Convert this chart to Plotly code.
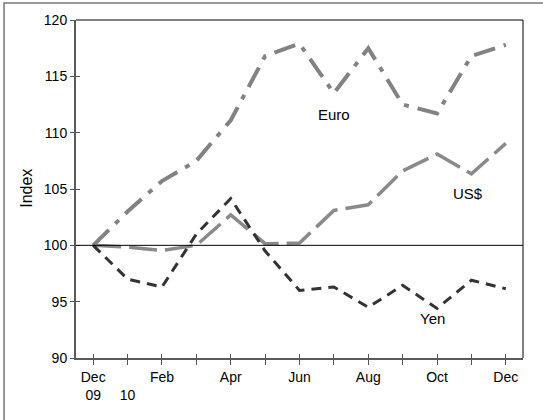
import plotly.graph_objects as go

# months, Dec 2009 to Dec 2010
months = ["Dec-09", "Jan-10", "Feb-10", "Mar-10", "Apr-10", "May-10", "Jun-10",
          "Jul-10", "Aug-10", "Sep-10", "Oct-10", "Nov-10", "Dec-10"]
tick_text = ["Dec<br>09", " <br>10", "Feb", "", "Apr", "", "Jun", "", "Aug", "", "Oct", "", "Dec"]

euro = [100.0, 103.0, 105.7, 107.5, 111.1, 116.8, 117.9, 113.5, 117.5, 112.5, 111.7, 116.8, 117.8]
usd = [100.0, 99.85, 99.55, 100.0, 102.7, 100.15, 100.2, 103.1, 103.6, 106.6, 108.1, 106.35, 109.05]
yen = [100.0, 97.0, 96.3, 101.0, 104.15, 99.5, 96.0, 96.3, 94.5, 96.45, 94.4, 96.9, 96.15]

FONT = "Liberation Sans"

fig = go.Figure()

fig.add_trace(go.Scatter(x=months, y=euro, mode="lines", name="Euro",
                         line=dict(color="#828282", width=4, dash="22px,9px,5px,9px")))
fig.add_trace(go.Scatter(x=months, y=usd, mode="lines", name="US$",
                         line=dict(color="#8a8a8a", width=3.5, dash="28px,8px")))
fig.add_trace(go.Scatter(x=months, y=yen, mode="lines", name="Yen",
                         line=dict(color="#333333", width=3, dash="10px,7px")))
# invisible trace so the overlay axes (inside ticks) get drawn
fig.add_trace(go.Scatter(x=months, y=usd, mode="lines", xaxis="x2", yaxis="y2",
                         line=dict(color="rgba(0,0,0,0)"), hoverinfo="skip"))

axis_font = dict(family=FONT, size=14, color="black")

fig.update_layout(
    width=543, height=420,
    margin=dict(l=76, r=20, t=20, b=62),
    plot_bgcolor="white", paper_bgcolor="white",
    showlegend=False,
    font=axis_font,
    xaxis=dict(type="category", categoryarray=months, range=[-0.5, 12.5],
               tickmode="array", tickvals=months, ticktext=tick_text,
               ticks="outside", ticklen=5, tickwidth=1, tickcolor="#555",
               showline=True, linecolor="#5a5a5a", linewidth=2,
               showgrid=False, zeroline=False, tickfont=axis_font),
    yaxis=dict(range=[90, 120], dtick=5, ticks="outside", ticklen=4, tickwidth=1,
               tickcolor="#555", showline=True, linecolor="#5a5a5a", linewidth=2,
               showgrid=False, zeroline=False, tickfont=axis_font),
    xaxis2=dict(type="category", categoryarray=months, range=[-0.5, 12.5],
                overlaying="x", anchor="y", side="bottom",
                tickmode="array", tickvals=months, ticks="inside", ticklen=4,
                tickwidth=1, tickcolor="#555", showticklabels=False,
                showline=False, showgrid=False, zeroline=False),
    yaxis2=dict(range=[90, 120], dtick=5, overlaying="y", anchor="x", side="left",
                ticks="inside", ticklen=4, tickwidth=1, tickcolor="#555",
                showticklabels=False, showline=False, showgrid=False, zeroline=False),
)

# reference line at 100, top and right frame of the plot, outer box
fig.add_shape(type="line", xref="paper", yref="y", x0=0, x1=1, y0=100, y1=100,
              line=dict(color="black", width=1))
fig.add_shape(type="line", xref="paper", yref="paper", x0=0, x1=1, y0=1, y1=1,
              line=dict(color="black", width=1))
fig.add_shape(type="line", xref="paper", yref="paper", x0=1, x1=1, y0=0, y1=1,
              line=dict(color="black", width=1))
fig.add_shape(type="rect", xref="paper", yref="paper", x0=-0.161, x1=1.08,
              y0=-0.25, y1=1.0503, line=dict(color="#777", width=1.5))

label_font = dict(family=FONT, size=15, color="black")
fig.add_annotation(x=7, y=111.6, text="Euro", showarrow=False, font=label_font)
fig.add_annotation(x=10.91, y=104.6, text="US$", showarrow=False, font=label_font)
fig.add_annotation(x=9.86, y=93.5, text="Yen", showarrow=False, font=label_font)
fig.add_annotation(x=-0.11, y=0.503, xref="paper", yref="paper", text="Index",
                   textangle=-90, showarrow=False, xanchor="center", yanchor="middle",
                   font=dict(family=FONT, size=16, color="black"))

# drop the default page margin so the figure sits at the window's corner
fig.write_html("out.html", config={"displayModeBar": False},
               post_script="document.body.style.margin = '0';")
